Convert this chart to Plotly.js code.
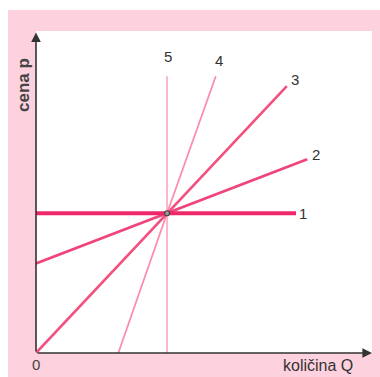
<!DOCTYPE html>
<html>
<head>
<meta charset="utf-8">
<script src="https://cdn.plot.ly/plotly-3.0.1.min.js"></script>
<style>html,body{margin:0;padding:0;background:#fff;}#chart{width:380px;height:377px;}</style>
</head>
<body>
<div id="chart"></div>
<script>
// Data (Q = quantity, p = price)
const lineNames = ["1", "2", "3", "4", "5"];
const line1Q = [0, 9.92];
const line1P = [5, 5];
const line2Q = [0, 5, 10.35];
const line2P = [3.2, 5, 6.93];
const line3Q = [0, 5, 9.57];
const line3P = [0, 5, 9.55];
const line4Q = [3.14, 5, 6.86];
const line4P = [0, 5, 9.9];
const line5Q = [5, 5];
const line5P = [0, 9.9];
const pointQ = [5];
const pointP = [5];
const labelQ = [10.17, 10.7, 9.9, 6.98, 5.05];
const labelP = [4.98, 7.1, 9.8, 10.45, 10.6];
const xTitle = "količina Q";
const yTitle = "cena p";
const originLabel = "0";

const xMax = 12.82, yMax = 11.52;

const traces = [
  {x: line5Q, y: line5P, mode: "lines", line: {color: "#ffb6ca", width: 2}},
  {x: line4Q, y: line4P, mode: "lines", line: {color: "#fb8eae", width: 1.8}},
  {x: line3Q, y: line3P, mode: "lines", line: {color: "#f4507f", width: 2.6}},
  {x: line2Q, y: line2P, mode: "lines", line: {color: "#f0457a", width: 2.8}},
  {x: line1Q, y: line1P, mode: "lines", line: {color: "#ee2868", width: 3.8}},
  {x: pointQ, y: pointP, mode: "markers", marker: {size: 5, color: "#9a9a9a", line: {color: "#444", width: 1.2}}}
].map(t => Object.assign(t, {hoverinfo: "skip", showlegend: false, cliponaxis: false}));

const annotations = lineNames.map((n, i) => ({
  x: labelQ[i], y: labelP[i], text: n, showarrow: false,
  xanchor: "center", yanchor: "middle",
  font: {family: "Liberation Sans, Arial, sans-serif", size: 15, color: "#333"}
}));
// axis arrows
annotations.push({x: xMax, y: 0, ax: 0, ay: 0, axref: "x", ayref: "y", text: "", showarrow: true,
  arrowhead: 2, arrowsize: 1.2, arrowwidth: 1.6, arrowcolor: "#333"});
annotations.push({x: 0, y: yMax - 0.05, ax: 0, ay: 0, axref: "x", ayref: "y", text: "", showarrow: true,
  arrowhead: 2, arrowsize: 1.2, arrowwidth: 1.6, arrowcolor: "#333"});
annotations.push({x: 0, y: 0, yshift: -11, text: originLabel, showarrow: false, xanchor: "center", yanchor: "middle",
  font: {family: "Liberation Sans, Arial, sans-serif", size: 15, color: "#444"}});
annotations.push({x: (317.5 - 36) / 336, xref: "paper", y: 0, yref: "paper", yshift: -12, text: xTitle, showarrow: false,
  xanchor: "center", yanchor: "middle",
  font: {family: "Liberation Sans, Arial, sans-serif", size: 16, color: "#333"}});
annotations.push({x: 0, xref: "paper", xshift: -13, y: (353 - 85) / 322, yref: "paper", text: "<b>" + yTitle + "</b>", showarrow: false,
  textangle: -90, xanchor: "center", yanchor: "middle",
  font: {family: "Liberation Sans, Arial, sans-serif", size: 17, color: "#444"}});

const layout = {
  width: 380, height: 377,
  margin: {l: 36, r: 8, t: 31, b: 24, pad: 0},
  paper_bgcolor: "#ffffff", plot_bgcolor: "#ffffff",
  xaxis: {range: [0, xMax], showgrid: false, zeroline: false, showticklabels: false, ticks: "", showline: false, fixedrange: true},
  yaxis: {range: [0, yMax], showgrid: false, zeroline: false, showticklabels: false, ticks: "", showline: false, fixedrange: true},
  shapes: [
    {type: "rect", xref: "paper", yref: "paper", x0: (8 - 36) / 336, x1: (381 - 36) / 336,
     y0: (353 - 378) / 322, y1: (353 - 10) / 322, fillcolor: "#fdd1de", line: {width: 0}, layer: "below"},
    {type: "rect", xref: "paper", yref: "paper", x0: 0, x1: 1, y0: 0, y1: 1,
     fillcolor: "#ffffff", line: {width: 0}, layer: "below"}
  ],
  annotations: annotations,
  showlegend: false
};

Plotly.newPlot("chart", traces, layout, {staticPlot: true, displayModeBar: false});
</script>
</body>
</html>
